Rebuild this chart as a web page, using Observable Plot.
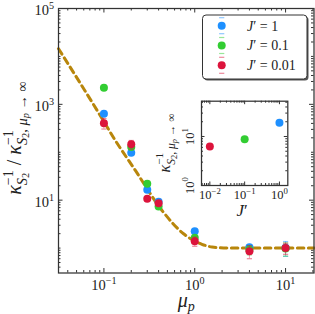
<!DOCTYPE html>
<html><head><meta charset="utf-8">
<script src="https://cdn.jsdelivr.net/npm/d3@7"></script>
<script src="https://cdn.jsdelivr.net/npm/@observablehq/plot@0.6"></script>
<style>
html,body{margin:0;padding:0;background:#fff;}
#wrap{position:relative;width:315px;height:314px;overflow:hidden;background:#fff;}
#wrap svg{position:absolute;left:0;top:0;}
</style></head>
<body><div id="wrap"></div>
<script>
const SERIF = "'Liberation Serif', 'DejaVu Serif', serif";
const INK = "#222";
const AX = "#333";

// ---- main panel data ----
const mu = [0.1, 0.2, 0.3, 0.4, 1, 4, 10];
const seriesJ = ["1", "0.1", "0.01"];
const seriesColors = ["#1E90FF", "#32CD32", "#DC143C"];
const kBlue  = [637, 98, 16.5, 9.3, 2.25, 1.04, 1.02];
const kGreen = [2220, 128, 22, 7.4, 1.64, 0.92, 0.98];
const kRed   = [405, 146, 10.7, 8.66, 1.39, 0.86, 1.0];
const errBlue  = [60, 10, 1.5, 0.8, 0.15, 0.13, 0.35];
const errGreen = [120, 12, 1.8, 0.6, 0.2, 0.2, 0.3];
const errRed   = [100, 30, 1.0, 0.8, 0.3, 0.26, 0.26];
const seriesK = [kBlue, kGreen, kRed];
const seriesErr = [errBlue, errGreen, errRed];

// dashed guide curve
const lineMu = [0.0316, 0.0842, 0.1337, 0.222, 0.436, 0.753, 1.2, 1.55, 2.3, 4, 10, 20.6];
const lineK  = [14500, 746, 176, 41.7, 6.1, 1.99, 1.2, 1.05, 1.0, 1.0, 1.0, 1.0];

// ---- inset data ----
const insetJ = [0.01, 0.1, 1];
const insetK = [6.25, 8.8, 19];
const insetColors = ["#DC143C", "#32CD32", "#1E90FF"];

// ---- tick values ----
const xMajor = [0.1, 1, 10];
const yMajor = [10, 1e3, 1e5];
const inXMajor = [0.01, 0.1, 1];
const inYMajor = [1, 10];

const X_DOMAIN = [10 ** -1.5, 10 ** 1.313];
const Y_DOMAIN = [10 ** -0.52, 1e5];
const IX_DOMAIN = [10 ** -2.24, 10 ** 0.24];
const IY_DOMAIN = [1, 10 ** 1.72];

function logTicks(lo, hi, domain, exclude) {
  const out = [];
  for (let e = lo; e <= hi; e++) for (let m = 1; m <= 9; m++) {
    const v = +(m * 10 ** e).toPrecision(6);
    if (v >= domain[0] && v <= domain[1] && !exclude.includes(v)) out.push(v);
  }
  return out;
}
const xMinor = logTicks(-2, 1, X_DOMAIN, xMajor);
const yMinor = logTicks(-1, 4, Y_DOMAIN, yMajor);
const inXMinor = logTicks(-3, 0, IX_DOMAIN, inXMajor);
const inYMinor = logTicks(0, 1, IY_DOMAIN, inYMajor);

const pow10 = d => { const e = Math.round(Math.log10(d)); return "10^" + (e < 0 ? "−" + (-e) : e); };

function tickMarks(xt, yt, len, iw, ih) {
  const o = {stroke: AX, strokeWidth: 1};
  return [
    Plot.tickX(xt, {...o, x: d => d, insetTop: ih - len}),
    Plot.tickX(xt, {...o, x: d => d, insetBottom: ih - len}),
    Plot.tickY(yt, {...o, y: d => d, insetRight: iw - len}),
    Plot.tickY(yt, {...o, y: d => d, insetLeft: iw - len})
  ];
}

const capSymbol = {draw(ctx, size) { const w = Math.sqrt(size / Math.PI); ctx.moveTo(-w, 0); ctx.lineTo(w, 0); }};

const W = 315, H = 314;
const M = {top: 8, right: 1.5, bottom: 41.5, left: 58};
const iw = W - M.left - M.right, ih = H - M.top - M.bottom;

const seriesMarks = [];
seriesK.forEach((ks, s) => {
  const rows = mu.map((m, i) => ({mu: m, k: ks[i], err: seriesErr[s][i]}));
  const c = seriesColors[s];
  seriesMarks.push(
    Plot.ruleX(rows, {x: "mu", y1: d => d.k - d.err, y2: d => d.k + d.err, stroke: c, strokeOpacity: 0.4, strokeWidth: 1}),
    Plot.dot(rows, {x: "mu", y: d => d.k + d.err, symbol: capSymbol, r: 2.6, stroke: c, strokeOpacity: 0.5, strokeWidth: 1.2, fill: "none"}),
    Plot.dot(rows, {x: "mu", y: d => d.k - d.err, symbol: capSymbol, r: 2.6, stroke: c, strokeOpacity: 0.5, strokeWidth: 1.2, fill: "none"}),
    Plot.dot(rows, {x: "mu", y: "k", r: 4, fill: c, stroke: "none"})
  );
});

const main = Plot.plot({
  width: W, height: H,
  marginTop: M.top, marginRight: M.right, marginBottom: M.bottom, marginLeft: M.left,
  style: {fontFamily: SERIF, color: INK, background: "transparent", overflow: "visible"},
  x: {type: "log", domain: X_DOMAIN},
  y: {type: "log", domain: Y_DOMAIN},
  marks: [
    ...tickMarks(xMajor, yMajor, 4.5, iw, ih),
    ...tickMarks(xMinor, yMinor, 2.5, iw, ih),
    Plot.line(lineMu.map((m, i) => ({m, k: lineK[i]})), {x: "m", y: "k", stroke: "#B8860B", strokeWidth: 3, strokeDasharray: "6.5,4.5", curve: "monotone-x"}),
    ...seriesMarks,
    Plot.frame({stroke: AX, strokeWidth: 1.25}),
    Plot.axisX(xMajor, {anchor: "bottom", tickSize: 0, tickPadding: 6.5, tickFormat: pow10, fontSize: 14.5, label: null}),
    Plot.axisY(yMajor, {anchor: "left", tickSize: 0, tickPadding: 4.5, tickFormat: pow10, fontSize: 14.5, label: null, dy: 2})
  ]
});

const IM = {top: 100.7, right: 27.7, bottom: 129, left: 201};
const iiw = W - IM.left - IM.right, iih = H - IM.top - IM.bottom;
const insetRows = insetJ.map((j, i) => ({j, k: insetK[i], c: insetColors[i]}));
const inset = Plot.plot({
  width: W, height: H,
  marginTop: IM.top, marginRight: IM.right, marginBottom: IM.bottom, marginLeft: IM.left,
  style: {fontFamily: SERIF, color: INK, background: "transparent", overflow: "visible"},
  x: {type: "log", domain: IX_DOMAIN},
  y: {type: "log", domain: IY_DOMAIN},
  color: {type: "identity"},
  marks: [
    Plot.frame({fill: "white", stroke: null}),
    ...tickMarks(inXMajor, inYMajor, 3.5, iiw, iih),
    ...tickMarks(inXMinor, inYMinor, 2, iiw, iih),
    Plot.dot(insetRows, {x: "j", y: "k", r: 4, fill: "c", stroke: "none"}),
    Plot.frame({stroke: AX, strokeWidth: 1.25}),
    Plot.axisX(inXMajor, {anchor: "bottom", tickSize: 0, tickPadding: 4.5, tickFormat: pow10, fontSize: 12.5, label: null}),
    Plot.axisY(inYMajor, {anchor: "left", tickSize: 0, tickPadding: 8, tickFormat: pow10, fontSize: 12.5, label: null, rotate: -90, textAnchor: "middle", lineAnchor: "bottom"})
  ]
});

const wrap = document.getElementById("wrap");
wrap.appendChild(main);
wrap.appendChild(inset);

function supify(svg, f) {
  d3.select(svg).selectAll("text").each(function () {
    const s = this.textContent;
    if (!s.includes("^")) return;
    const [b, e] = s.split("^");
    const t = d3.select(this);
    t.text("");
    t.append("tspan").text(b);
    t.append("tspan").text(e).attr("font-size", 0.7 * f).attr("dy", -0.42 * f);
  });
}
supify(main, 14.5);
supify(inset, 12.5);

// ---- overlay: axis labels & legend ----
const over = d3.create("svg").attr("width", W).attr("height", H).attr("viewBox", `0 0 ${W} ${H}`);
wrap.appendChild(over.node());

function mathText(parent, items, {x, y, f, rotate = 0, anchor = "middle", fill = INK}) {
  const g = parent.append("g").attr("transform", `translate(${x},${y}) rotate(${rotate})`);
  const text = g.append("text").attr("font-family", SERIF).attr("font-size", f).attr("fill", fill);
  let cur = 0, pending = 0;
  const run = r => {
    const target = -(r.sh || 0) * f;
    const ts = text.append("tspan").text(r.t).attr("font-size", (r.s || 1) * f);
    if (target !== cur) ts.attr("dy", target - cur);
    if (pending) ts.attr("dx", pending);
    if (r.it) ts.attr("font-style", "italic");
    pending = 0; cur = target;
    return ts.node().getComputedTextLength();
  };
  for (const it of items) {
    if (it.sup) {
      let ws = 0; for (const r of it.sup) ws += run(r);
      pending = -ws;
      let wb = 0; for (const r of it.sub) wb += run(r);
      pending = Math.max(0, ws - wb);
    } else run(it);
  }
  if (anchor === "middle") { const b = text.node().getBBox(); text.attr("x", -(b.x + b.width / 2)); }
  return g;
}

const SUP = [{t: "−1", s: 0.7, sh: 0.42}];
const subS2 = [{t: "S", it: 1, s: 0.72, sh: -0.3}, {t: "2", s: 0.52, sh: -0.42}];
const subInf = [...subS2, {t: ", ", s: 0.72, sh: -0.3}, {t: "μ", it: 1, s: 0.72, sh: -0.3}, {t: "p", it: 1, s: 0.52, sh: -0.42}, {t: " → ∞", s: 0.72, sh: -0.3}];

mathText(over, [{t: "κ", it: 1}, {sup: SUP, sub: subS2}, {t: " / "}, {t: "κ", it: 1}, {sup: SUP, sub: subInf}],
  {x: 21, y: 138, f: 20, rotate: -90});
mathText(over, [{t: "μ", it: 1}, {t: "p", it: 1, s: 0.7, sh: -0.2}], {x: 185.7, y: 307, f: 20});
mathText(over, [{t: "κ", it: 1}, {sup: SUP, sub: subInf}], {x: 170, y: 143, f: 16, rotate: -90});
mathText(over, [{t: "J", it: 1}, {t: "′"}], {x: 242, y: 216, f: 17});

// legend
const lg = over.append("g");
const LX = 202.5, LY = 15, LW = 104.5, LH = 64;
lg.append("rect").attr("x", LX + 1.5).attr("y", LY + 1.5).attr("width", LW).attr("height", LH).attr("rx", 3.5).attr("fill", "#555");
lg.append("rect").attr("x", LX).attr("y", LY).attr("width", LW).attr("height", LH).attr("rx", 3.5).attr("fill", "white").attr("stroke", AX).attr("stroke-width", 1);
seriesJ.forEach((j, i) => {
  const cy = 25.7 + i * 19.8, cx = 221.7, c = seriesColors[i];
  for (const dy of [-8, 8]) lg.append("line").attr("x1", cx - 2.6).attr("x2", cx + 2.6).attr("y1", cy + dy).attr("y2", cy + dy)
    .attr("stroke", c).attr("stroke-opacity", 0.5).attr("stroke-width", 1.2);
  lg.append("circle").attr("cx", cx).attr("cy", cy).attr("r", 4).attr("fill", c);
  mathText(lg, [{t: "J", it: 1}, {t: "′"}, {t: " = " + j}], {x: 247, y: cy + 4.8, f: 14, anchor: "start"});
});
</script>
</body></html>
